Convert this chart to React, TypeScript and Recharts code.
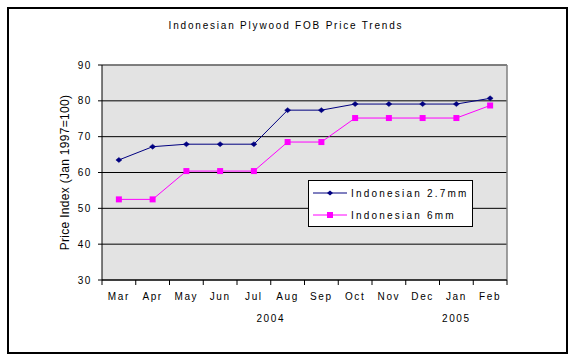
import React from 'react';
import { LineChart, Line, XAxis, YAxis, CartesianGrid, ReferenceLine, Legend } from 'recharts';

const months = ['Mar', 'Apr', 'May', 'Jun', 'Jul', 'Aug', 'Sep', 'Oct', 'Nov', 'Dec', 'Jan', 'Feb'];
const series27 = [63.5, 67.2, 67.9, 67.9, 67.9, 77.4, 77.4, 79.1, 79.1, 79.1, 79.1, 80.7];
const series6 = [52.5, 52.5, 60.4, 60.4, 60.4, 68.5, 68.5, 75.2, 75.2, 75.2, 75.2, 78.7];
const yTicks = [30, 40, 50, 60, 70, 80, 90];
const boundaryTicks = [0, 1, 2, 3, 4, 5, 6, 7, 8, 9, 10, 11, 12];
const yearTicks = [5, 10.5];
const yearLabels: Record<string, string> = { '5': '2004', '10.5': '2005' };

const NAME27 = 'Indonesian 2.7mm';
const NAME6 = 'Indonesian 6mm';
const NAVY = '#000080';
const MAGENTA = '#FF00FF';

// pos = category slot centre on a 0..12 index scale
const data = months.map((m, i) => ({ month: m, pos: i + 0.5, a: series27[i], b: series6[i] }));

const FONT = '"Liberation Sans", Arial, sans-serif';
const tickStyle = { fontFamily: FONT, fontSize: 10, fill: '#000', letterSpacing: 1.6 };

const Diamond = (props: any) => {
  const { cx, cy } = props;
  if (cx == null || cy == null) return null;
  return <path d={`M${cx - 3},${cy} L${cx},${cy - 2.5} L${cx + 3},${cy} L${cx},${cy + 2.5} Z`} fill={NAVY} stroke={NAVY} strokeWidth={0.5} />;
};

const Square = (props: any) => {
  const { cx, cy } = props;
  if (cx == null || cy == null) return null;
  return <rect x={cx - 3} y={cy - 3} width={6} height={6} fill={MAGENTA} />;
};

const LegendContent = () => (
  <div style={{ width: 163, height: 45, border: '1px solid #000', background: '#fff', fontFamily: FONT, fontSize: 10, letterSpacing: 2.2 }}>
    {[{ name: NAME27, color: NAVY, kind: 'd' }, { name: NAME6, color: MAGENTA, kind: 's' }].map((e, i) => (
      <div key={i} style={{ display: 'flex', alignItems: 'center', height: 22, marginTop: i === 0 ? 1 : 0 }}>
        <svg width={38} height={10} style={{ marginLeft: 4, flex: 'none' }}>
          <line x1={0} y1={5} x2={34} y2={5} stroke={e.color} strokeWidth={1} />
          {e.kind === 'd' ? (
            <path d="M14,5 L17,2.5 L20,5 L17,7.5 Z" fill={e.color} />
          ) : (
            <rect x={14} y={2} width={6} height={6} fill={e.color} />
          )}
        </svg>
        <span style={{ marginLeft: 0, whiteSpace: 'nowrap' }}>{e.name}</span>
      </div>
    ))}
  </div>
);

export default function App() {
  return (
    <div style={{ position: 'absolute', left: 0, top: 0, width: 572, height: 363, background: '#fff' }}>
      <div style={{ position: 'absolute', left: 7, top: 7, width: 557, height: 343, border: '2px solid #000', boxSizing: 'content-box' }} />
      <div style={{ position: 'absolute', left: 0, top: 20, width: 572, textAlign: 'center', fontFamily: FONT, fontSize: 10, letterSpacing: 1.8 }}>
        Indonesian Plywood FOB Price Trends
      </div>
      <div style={{ position: 'absolute', left: 0, top: 0 }}>
        <LineChart width={572} height={363} data={data} margin={{ top: 65, right: 65, bottom: 33, left: 62 }}>
          <CartesianGrid xAxisId="a_num" vertical={false} stroke="#000" fill="#E3E3E3" fillOpacity={1} />
          <XAxis xAxisId="a_num" dataKey="pos" type="number" domain={[0, 12]} allowDataOverflow ticks={boundaryTicks} interval={0}
            tickFormatter={() => ''} height={6} tickSize={5} stroke="#000" axisLine={{ stroke: '#000' }} tickLine={{ stroke: '#000' }} />
          <XAxis xAxisId="b_cat" dataKey="month" scale="band" interval={0} height={20} tickSize={0} tickMargin={7}
            axisLine={false} tickLine={false} tick={tickStyle} />
          <XAxis xAxisId="c_year" dataKey="pos" type="number" domain={[0, 12]} allowDataOverflow ticks={yearTicks} interval={0} height={24}
            tickSize={0} tickMargin={9} axisLine={false} tickLine={false} tick={tickStyle}
            tickFormatter={(v: number) => yearLabels[String(v)] || ''} />
          <YAxis domain={[30, 90]} ticks={yTicks} interval={0} width={40} tickSize={4} tickMargin={6}
            axisLine={{ stroke: '#000' }} tickLine={{ stroke: '#000' }} tick={tickStyle}
            label={{ value: 'Price Index (Jan 1997=100)', angle: -90, position: 'insideLeft', offset: 3, style: { fontFamily: FONT, fontSize: 12, fill: '#000', textAnchor: 'middle', letterSpacing: 0.3 } }} />
          <ReferenceLine xAxisId="a_num" y={90} stroke="#808080" strokeWidth={1.5} />
          <ReferenceLine xAxisId="a_num" x={12} stroke="#808080" strokeWidth={1.5} />
          <Line xAxisId="b_cat" dataKey="a" name={NAME27} stroke={NAVY} strokeWidth={1} dot={<Diamond />} activeDot={false} isAnimationActive={false} />
          <Line xAxisId="b_cat" dataKey="b" name={NAME6} stroke={MAGENTA} strokeWidth={1} dot={<Square />} activeDot={false} isAnimationActive={false} />
          <Legend layout="vertical" align="center" verticalAlign="middle" content={<LegendContent />}
            wrapperStyle={{ position: 'absolute', left: 308, top: 180, width: 165, height: 47 }} />
        </LineChart>
      </div>
    </div>
  );
}
